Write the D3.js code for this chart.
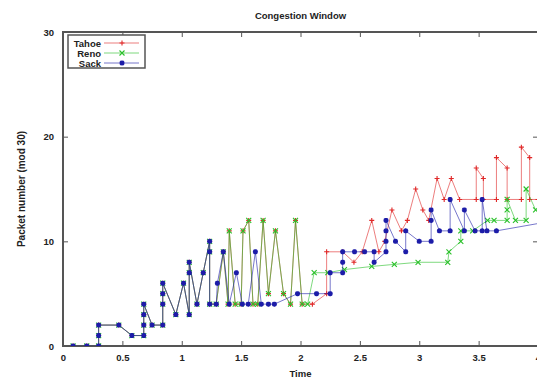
<!DOCTYPE html>
<html>
<head>
<meta charset="utf-8">
<script src="https://cdn.jsdelivr.net/npm/d3@7"></script>
<style>
  body { margin: 0; background: #fff; }
  svg { display: block; font-family: "Liberation Sans", Arial, sans-serif; }
</style>
</head>
<body>
<div id="chart"></div>
<script>
// slow start part, identical for all three variants
let startTime = [0.085, 0.2, 0.30, 0.30, 0.30, 0.47, 0.58, 0.68, 0.68, 0.68, 0.68, 0.75, 0.84, 0.84, 0.84, 0.84, 0.95, 1.015, 1.063, 1.063, 1.063, 1.128, 1.181, 1.235, 1.235, 1.235];
let startCwnd = [0, 0, 0, 1, 2, 2, 1, 1, 2, 3, 4, 2, 2, 4, 5, 6, 3, 6, 3, 7, 8, 4, 7, 10, 9, 4];

// tahoe and reno go the same way up to t=2
let sharedTime = [1.29, 1.35, 1.39, 1.40, 1.45, 1.50, 1.516, 1.564, 1.60, 1.64, 1.685, 1.73, 1.789, 1.857, 1.916, 1.958, 2.014];
let sharedCwnd = [4, 9, 4, 11, 4, 4, 11, 12, 4, 4, 12, 5, 11, 5, 4, 12, 4];

let tahoeTime = [2.10, 2.22, 2.22, 2.355, 2.45, 2.52, 2.60, 2.66, 2.71, 2.77, 2.85, 2.90, 2.97, 3.03, 3.08, 3.15, 3.21, 3.27, 3.34, 3.48, 3.48, 3.54, 3.54, 3.65, 3.65, 3.74, 3.74, 3.86, 3.86, 3.93, 3.93, 4.0];
let tahoeCwnd = [4, 5, 9, 9, 8, 9, 12, 9, 10, 13, 11, 12, 15, 13, 12, 16, 14, 16, 14, 14, 17, 16, 14, 14, 18, 17, 14, 14, 19, 18, 14, 14];

let renoTime = [2.06, 2.115, 2.23, 2.37, 2.60, 2.79, 2.99, 3.24, 3.25, 3.35, 3.35, 3.45, 3.575, 3.63, 3.74, 3.74, 3.74, 3.81, 3.90, 3.90, 3.98];
let renoCwnd = [4, 7, 7, 7.3, 7.6, 7.8, 8, 8, 9, 10, 11, 11, 12, 12, 12, 13, 14, 12, 12, 15, 13];

let sackTime = [1.291, 1.30, 1.35, 1.40, 1.46, 1.51, 1.56, 1.62, 1.67, 1.73, 1.78, 1.975, 2.135, 2.25, 2.25, 2.355, 2.355, 2.355, 2.455, 2.54, 2.62, 2.62, 2.72, 2.72, 2.72, 2.72, 2.80, 2.886, 2.886, 3.0, 3.10, 3.10, 3.10, 3.17, 3.26, 3.26, 3.38, 3.38, 3.47, 3.53, 3.53, 3.57, 3.65, 4.1];
let sackCwnd = [4, 6, 9, 4, 7, 4, 4, 9, 4, 4, 4, 5, 5, 5, 7, 7, 8, 9, 9, 9, 9, 8, 9, 10, 11, 12, 10, 9, 11, 10, 10, 12, 13, 11, 11, 14, 11, 13, 11, 11, 14, 11, 11, 11.9];

let xTicks = [0, 0.5, 1, 1.5, 2, 2.5, 3, 3.5, 4];
let yTicks = [0, 10, 20, 30];

function pairs(ts, vs) {
  return ts.map(function (t, i) { return { t: t, v: vs[i] }; });
}

let series = [
  { name: "Tahoe", color: "#e02828", mark: "plus", pts: pairs(startTime.concat(sharedTime, tahoeTime), startCwnd.concat(sharedCwnd, tahoeCwnd)) },
  { name: "Reno", color: "#28c028", mark: "cross", pts: pairs(startTime.concat(sharedTime, renoTime), startCwnd.concat(sharedCwnd, renoCwnd)) },
  { name: "Sack", color: "#1c1ca8", mark: "star", pts: pairs(startTime.concat(sackTime), startCwnd.concat(sackCwnd)) }
];

let width = 537, height = 378;
let mLeft = 63, mRight = 538, mTop = 32, mBottom = 346;
let fontSize = 9.5;

let x = d3.scaleLinear().domain([0, 4]).range([mLeft, mRight]);
let y = d3.scaleLinear().domain([0, 30]).range([mBottom, mTop]);

let svg = d3.select("#chart").append("svg")
  .attr("width", width)
  .attr("height", height);

svg.append("clipPath").attr("id", "clip")
  .append("rect")
  .attr("x", mLeft).attr("y", mTop)
  .attr("width", mRight - mLeft).attr("height", mBottom - mTop);

// title and axis labels
svg.append("text")
  .attr("x", (mLeft + mRight) / 2).attr("y", 19)
  .attr("text-anchor", "middle")
  .attr("font-size", fontSize).attr("font-weight", "bold")
  .attr("fill", "#222")
  .text("Congestion Window");

svg.append("text")
  .attr("x", (mLeft + mRight) / 2).attr("y", 377)
  .attr("text-anchor", "middle")
  .attr("font-size", fontSize).attr("font-weight", "bold")
  .attr("fill", "#222")
  .text("Time");

svg.append("text")
  .attr("transform", "translate(25," + ((mTop + mBottom) / 2) + ") rotate(-90)")
  .attr("text-anchor", "middle")
  .attr("font-size", 10).attr("font-weight", "bold")
  .attr("fill", "#222")
  .text("Packet number (mod 30)");

// ticks, gnuplot style: inside and mirrored
let tickLen = 5;
let axisColor = "#555";

let xAxisB = d3.axisBottom(x).tickValues(xTicks).tickSize(-tickLen).tickPadding(8)
  .tickFormat(d3.format("~g"));
let xAxisT = d3.axisTop(x).tickValues(xTicks).tickSize(-tickLen).tickFormat("");
let yAxisL = d3.axisLeft(y).tickValues(yTicks).tickSize(-tickLen).tickPadding(9);
let yAxisR = d3.axisRight(y).tickValues(yTicks).tickSize(-tickLen).tickFormat("");

function styleAxis(g) {
  g.select(".domain").remove();
  g.selectAll("line").attr("stroke", axisColor).attr("stroke-width", 1);
  g.selectAll("text").attr("fill", "#222").attr("font-size", fontSize).attr("font-weight", "bold")
    .attr("font-family", "Liberation Sans, Arial, sans-serif");
}

svg.append("g").attr("transform", "translate(0," + mBottom + ")").call(xAxisB).call(styleAxis);
svg.append("g").attr("transform", "translate(0," + mTop + ")").call(xAxisT).call(styleAxis);
svg.append("g").attr("transform", "translate(" + mLeft + ",0)").call(yAxisL).call(styleAxis);
svg.append("g").attr("transform", "translate(" + mRight + ",0)").call(yAxisR).call(styleAxis);

svg.append("rect")
  .attr("x", mLeft).attr("y", mTop)
  .attr("width", mRight - mLeft).attr("height", mBottom - mTop)
  .attr("fill", "none")
  .attr("stroke", axisColor)
  .attr("stroke-width", 2);

// point markers
function markPath(kind, s) {
  if (kind == "plus") return "M" + (-s) + ",0H" + s + "M0," + (-s) + "V" + s;
  if (kind == "cross") return "M" + (-s) + "," + (-s) + "L" + s + "," + s + "M" + (-s) + "," + s + "L" + s + "," + (-s);
  return "M" + (-s) + ",0H" + s + "M0," + (-s) + "V" + s +
    "M" + (-s * 0.75) + "," + (-s * 0.75) + "L" + (s * 0.75) + "," + (s * 0.75) +
    "M" + (-s * 0.75) + "," + (s * 0.75) + "L" + (s * 0.75) + "," + (-s * 0.75);
}

let line = d3.line()
  .x(function (d) { return x(d.t); })
  .y(function (d) { return y(d.v); });

let plot = svg.append("g").attr("clip-path", "url(#clip)");

series.forEach(function (s) {
  plot.append("path")
    .datum(s.pts)
    .attr("fill", "none")
    .attr("stroke", s.color)
    .attr("stroke-width", 1)
    .attr("opacity", 0.6)
    .attr("d", line);

  plot.selectAll(".m-" + s.name)
    .data(s.pts)
    .enter()
    .append("path")
    .attr("class", "m-" + s.name)
    .attr("transform", function (d) { return "translate(" + x(d.t) + "," + y(d.v) + ")"; })
    .attr("d", markPath(s.mark, 2.5))
    .attr("fill", "none")
    .attr("stroke", s.color)
    .attr("stroke-width", s.mark == "star" ? 1.6 : 1.1);
});

// legend
let legend = svg.append("g");
legend.append("rect")
  .attr("x", 68).attr("y", 35)
  .attr("width", 77).attr("height", 33)
  .attr("fill", "#fff")
  .attr("stroke", axisColor)
  .attr("stroke-width", 1.5);

series.forEach(function (s, i) {
  let ly = 43 + i * 10;
  legend.append("text")
    .attr("x", 101).attr("y", ly + 3.5)
    .attr("text-anchor", "end")
    .attr("font-size", fontSize).attr("font-weight", "bold")
    .attr("fill", "#222")
    .text(s.name);
  legend.append("line")
    .attr("x1", 104).attr("x2", 139)
    .attr("y1", ly).attr("y2", ly)
    .attr("stroke", s.color)
    .attr("stroke-width", 1)
    .attr("opacity", 0.6);
  legend.append("path")
    .attr("transform", "translate(122," + ly + ")")
    .attr("d", markPath(s.mark, 2.5))
    .attr("fill", "none")
    .attr("stroke", s.color)
    .attr("stroke-width", s.mark == "star" ? 1.6 : 1.1);
});
</script>
</body>
</html>
